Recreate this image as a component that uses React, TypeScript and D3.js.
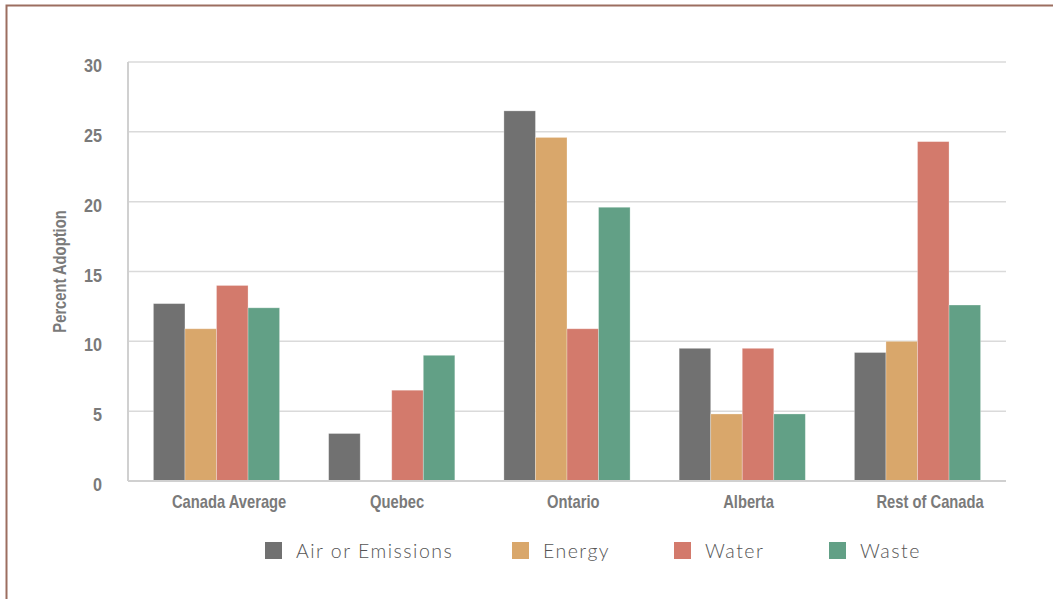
import React from "react";
import * as d3 from "d3";

const categories = ["Canada Average", "Quebec", "Ontario", "Alberta", "Rest of Canada"];
const seriesNames = ["Air or Emissions", "Energy", "Water", "Waste"];
const airValues = [12.7, 3.4, 26.5, 9.5, 9.2];
const energyValues = [10.9, 0, 24.6, 4.8, 10.0];
const waterValues = [14.0, 6.5, 10.9, 9.5, 24.3];
const wasteValues = [12.4, 9.0, 19.6, 4.8, 12.6];
const yTicks = [0, 5, 10, 15, 20, 25, 30];
const colors = ["#717171", "#d9a76b", "#d37a6c", "#62a086"];

const W = 1053;
const H = 599;
const margin = { left: 128, right: 47, top: 62, bottom: 118 };
const legendSquareX = [265, 512, 674, 829];

export default function App() {
  const series = [airValues, energyValues, waterValues, wasteValues];
  const x = d3
    .scaleBand<string>()
    .domain(categories)
    .range([margin.left, W - margin.right])
    .paddingInner(0.28)
    .paddingOuter(0.145);
  const xs = d3
    .scaleBand<string>()
    .domain(seriesNames)
    .range([0, x.bandwidth()]);
  const y = d3.scaleLinear().domain([0, 30]).range([H - margin.bottom, margin.top]);

  const axisFont = "'Liberation Sans', Arial, sans-serif";

  return (
    <svg
      width={W}
      height={H}
      style={{ position: "absolute", left: 0, top: 0, background: "#fff" }}
    >
      <rect x={6.5} y={5.5} width={1100} height={700} fill="none" stroke="#9c6e60" strokeWidth={2} />
      {yTicks.map((t) => (
        <g key={t}>
          {t > 0 && (
            <line
              x1={margin.left}
              x2={W - margin.right}
              y1={y(t)}
              y2={y(t)}
              stroke="#dadada"
              strokeWidth={1.5}
            />
          )}
          <g transform={`translate(102,${y(t) + 10}) scale(0.9,1)`}>
            <text
              textAnchor="end"
              fontFamily={axisFont}
              fontSize={18}
              fontWeight="bold"
              fill="#7a7a7a"
            >
              {t}
            </text>
          </g>
        </g>
      ))}
      {categories.map((c, ci) => (
        <g key={c}>
          {series.map((vals, si) => (
            <rect
              key={si}
              x={(x(c) as number) + (xs(seriesNames[si]) as number)}
              y={y(vals[ci])}
              width={xs.bandwidth()}
              height={y(0) - y(vals[ci])}
              fill={colors[si]}
              stroke="#ffffff"
              strokeOpacity={0.35}
              strokeWidth={0.8}
            />
          ))}
          <g
            transform={`translate(${(x(c) as number) + x.bandwidth() / 2 + c.length * 0.9},508) scale(0.82,1)`}
          >
            <text
              textAnchor="middle"
              fontFamily={axisFont}
              fontSize={18}
              fontWeight="bold"
              fill="#7a7a7a"
            >
              {c}
            </text>
          </g>
        </g>
      ))}
      <line x1={margin.left} x2={margin.left} y1={margin.top} y2={y(0)} stroke="#d0d0d0" strokeWidth={2} />
      <line x1={margin.left} x2={W - margin.right} y1={y(0)} y2={y(0)} stroke="#d0d0d0" strokeWidth={2} />
      <g transform={`translate(66,${(margin.top + y(0)) / 2}) rotate(-90) scale(0.82,1)`}>
        <text
          textAnchor="middle"
          fontFamily={axisFont}
          fontSize={18}
          fontWeight="bold"
          fill="#7a7a7a"
        >
          Percent Adoption
        </text>
      </g>
      {seriesNames.map((s, i) => (
        <g key={s}>
          <rect x={legendSquareX[i]} y={542} width={17} height={17} fill={colors[i]} />
          <text
            x={legendSquareX[i] + 31}
            y={557.5}
            fontFamily="Lato, 'Open Sans', sans-serif"
            fontSize={19.5}
            fontWeight={300}
            letterSpacing={1.5}
            fill="#555555"
          >
            {s}
          </text>
        </g>
      ))}
    </svg>
  );
}
